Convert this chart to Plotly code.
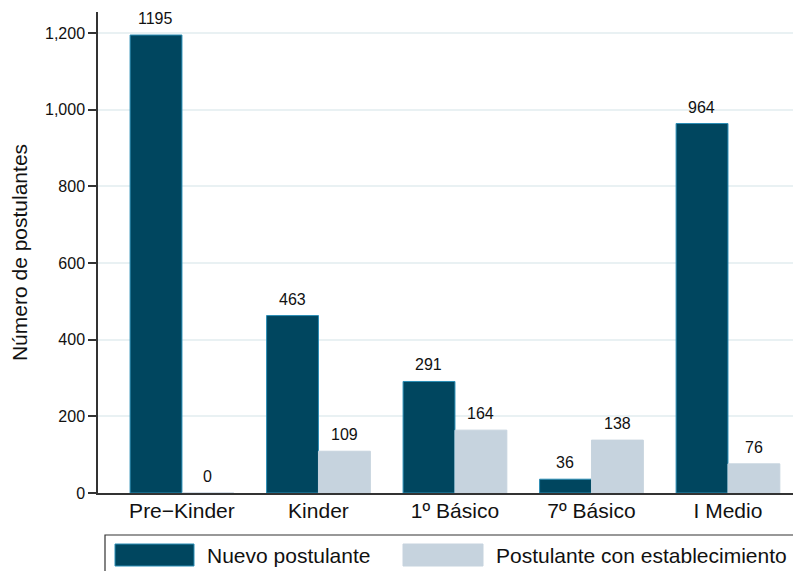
import plotly.graph_objects as go

categories = ["Pre\u2212Kinder", "Kinder", "1\u00ba B\u00e1sico", "7\u00ba B\u00e1sico", "I Medio"]
nuevo = [1195, 463, 291, 36, 964]
con_est = [0, 109, 164, 138, 76]
series_names = ["Nuevo postulante", "Postulante con establecimiento"]
y_ticks = [0, 200, 400, 600, 800, 1000, 1200]
y_ticklabels = ["0", "200", "400", "600", "800", "1,000", "1,200"]

DARK = "#00465f"
DARK_EDGE = "#2a8db5"
LIGHT = "#c6d3de"
TXT = "#111111"
FONT = "Liberation Sans, Arial, sans-serif"

# page body has an 8px margin; figure is sized/placed to compensate
OFF = 8
W, H = 801 - OFF, 571 - OFF
L, R, T, B = 98 - OFF, 0, 12 - OFF, 571 - 493
PW, PH = W - L - R, H - T - B


def px(x):  # screen pixel -> paper x
    return (x - OFF - L) / PW


def py(y):  # screen pixel -> paper y
    return (H - B - (y - OFF)) / PH


fig = go.Figure()
fig.add_trace(go.Bar(
    x=categories, y=nuevo, name=series_names[0],
    marker=dict(color=DARK, line=dict(color=DARK_EDGE, width=1)),
    showlegend=False, hoverinfo="x+y",
))
fig.add_trace(go.Bar(
    x=categories, y=con_est, name=series_names[1],
    marker=dict(color=LIGHT, line=dict(color=LIGHT, width=1)),
    showlegend=False, hoverinfo="x+y",
))

annotations = []
for series, shift in ((nuevo, -26), (con_est, 26)):
    for cat, v in zip(categories, series):
        annotations.append(dict(
            x=cat, y=v, xref="x", yref="y", text=str(v), showarrow=False,
            xanchor="center", yanchor="bottom", xshift=shift, yshift=6,
            font=dict(size=16, color=TXT, family=FONT),
        ))

shapes = [
    dict(type="rect", xref="paper", yref="paper",
         x0=px(105), x1=px(830), y0=py(640), y1=py(535),
         line=dict(color="#333333", width=1.2), fillcolor="white", layer="above"),
    dict(type="rect", xref="paper", yref="paper",
         x0=px(115), x1=px(194), y0=py(566), y1=py(544),
         line=dict(color=DARK_EDGE, width=1), fillcolor=DARK, layer="above"),
    dict(type="rect", xref="paper", yref="paper",
         x0=px(403), x1=px(483), y0=py(566), y1=py(544),
         line=dict(color=LIGHT, width=1), fillcolor=LIGHT, layer="above"),
]
annotations += [
    dict(text=series_names[0], xref="paper", yref="paper", x=px(205), y=py(555),
         xanchor="left", yanchor="middle", showarrow=False,
         font=dict(size=21, color=TXT, family=FONT)),
    dict(text=series_names[1], xref="paper", yref="paper", x=px(494), y=py(555),
         xanchor="left", yanchor="middle", showarrow=False,
         font=dict(size=21, color=TXT, family=FONT)),
]

fig.update_layout(
    width=W, height=H,
    margin=dict(l=L, r=R, t=T, b=B, pad=0),
    paper_bgcolor="white", plot_bgcolor="white",
    barmode="group", bargap=0.24, bargroupgap=0,
    showlegend=False,
    font=dict(family=FONT, color=TXT),
    shapes=shapes, annotations=annotations,
)
fig.update_xaxes(
    range=[-0.615, 4.535], showline=True, linecolor="#333333", linewidth=1.5,
    ticks="", showgrid=False, tickfont=dict(size=21, family=FONT, color=TXT),
    zeroline=False, ticklabelstandoff=-2,
)
fig.update_yaxes(
    range=[0, 1255], tickvals=y_ticks, ticktext=y_ticklabels,
    showline=True, linecolor="#333333", linewidth=1.5,
    ticks="outside", ticklen=8, tickcolor="#333333", tickwidth=1.5,
    showgrid=True, gridcolor="#e9f1f3", gridwidth=1.5, zeroline=False,
    tickfont=dict(size=16, family=FONT, color=TXT),
    title=dict(text="N\u00famero de postulantes", font=dict(size=21, family=FONT, color=TXT), standoff=12),
)

fig.write_html("out.html")
